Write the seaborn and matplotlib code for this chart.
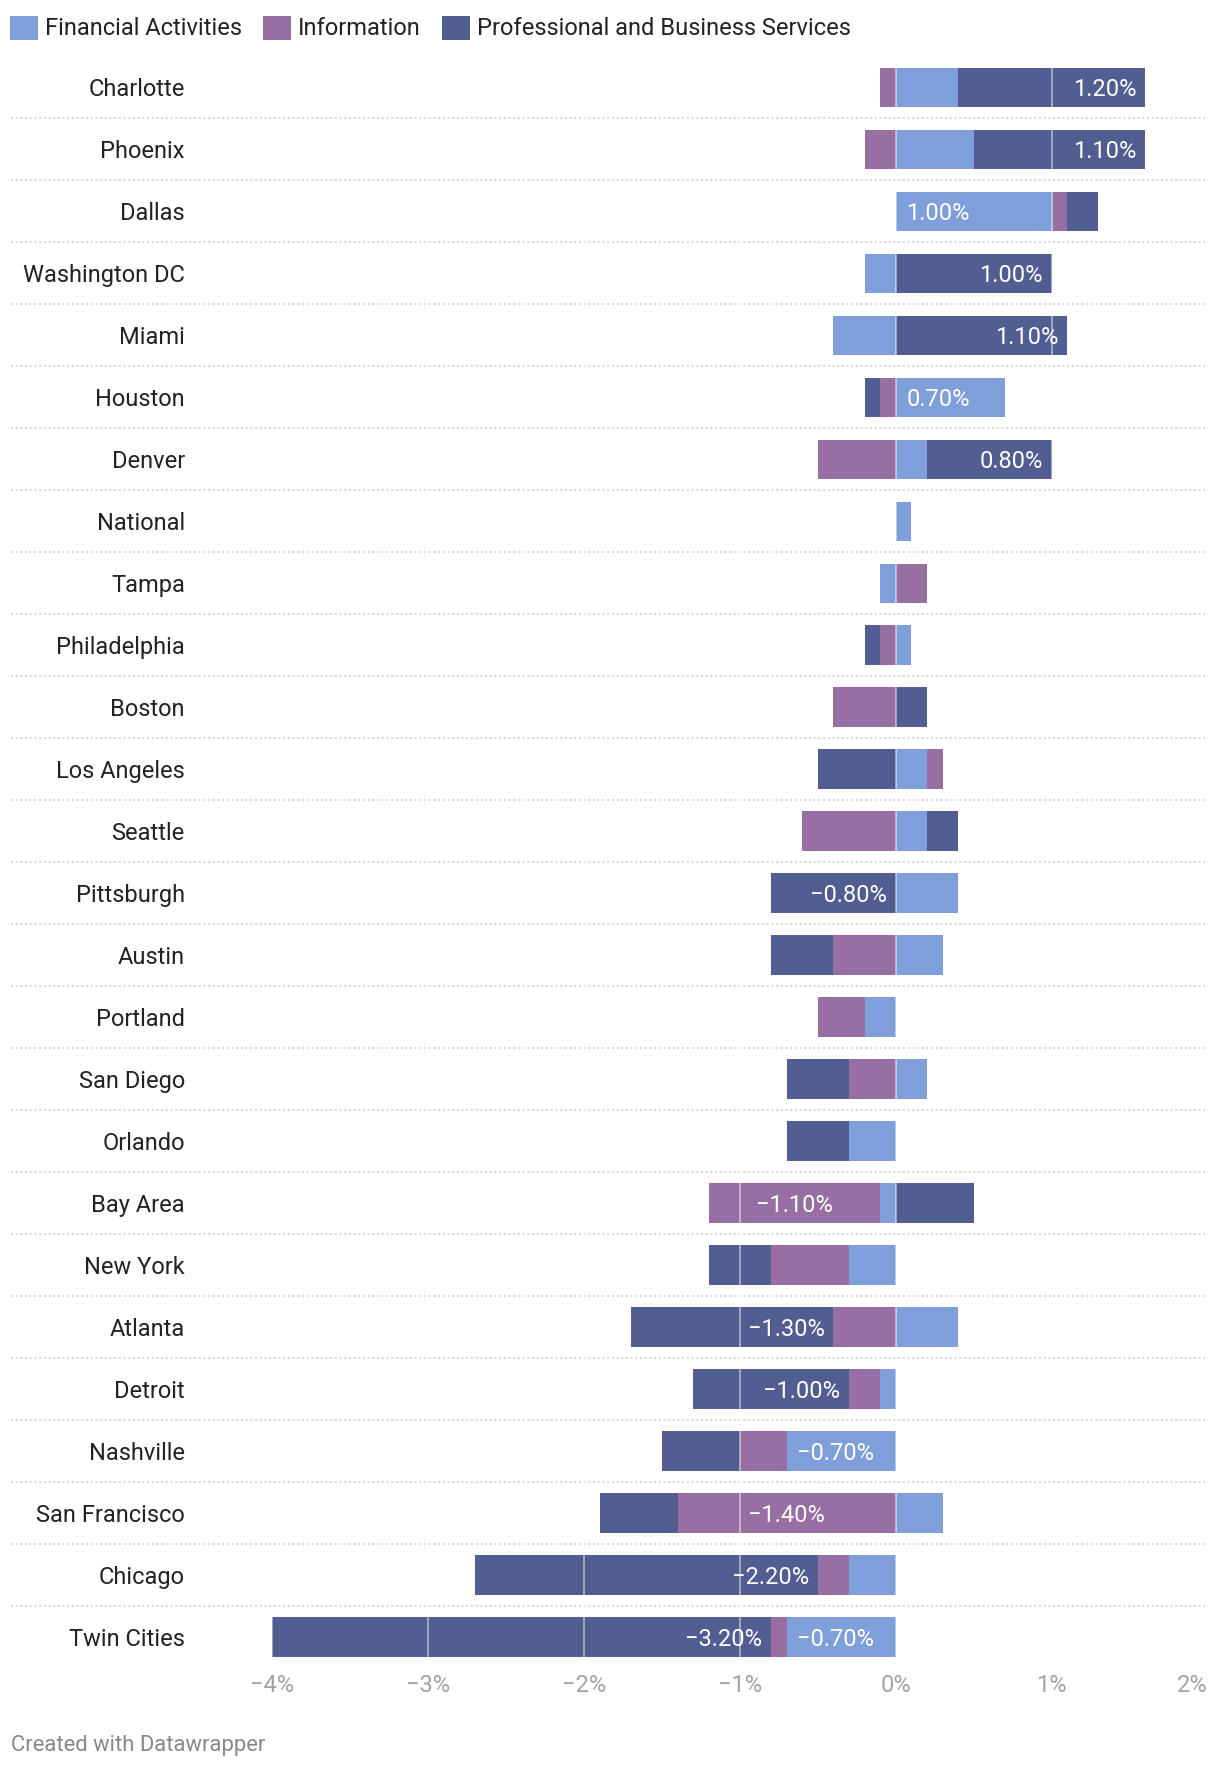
import numpy as np
import pandas as pd
import matplotlib
matplotlib.use("Agg")
import matplotlib.pyplot as plt
import matplotlib.transforms as mtrans
from matplotlib.patches import Patch
import seaborn as sns

# ---------------- data ----------------
cities = ["Charlotte", "Phoenix", "Dallas", "Washington DC", "Miami", "Houston",
          "Denver", "National", "Tampa", "Philadelphia", "Boston", "Los Angeles",
          "Seattle", "Pittsburgh", "Austin", "Portland", "San Diego", "Orlando",
          "Bay Area", "New York", "Atlanta", "Detroit", "Nashville",
          "San Francisco", "Chicago", "Twin Cities"]
financial = [0.4, 0.5, 1.0, -0.2, -0.4, 0.7, 0.2, 0.1, -0.1, 0.1, 0.0, 0.2,
             0.2, 0.4, 0.3, -0.2, 0.2, -0.3, -0.1, -0.3, 0.4, -0.1, -0.7,
             0.3, -0.3, -0.7]
information = [-0.1, -0.2, 0.1, 0.0, 0.0, -0.1, -0.5, 0.0, 0.2, -0.1, -0.4, 0.1,
               -0.6, 0.0, -0.4, -0.3, -0.3, 0.0, -1.1, -0.5, -0.4, -0.2, -0.3,
               -1.4, -0.2, -0.1]
professional = [1.2, 1.1, 0.2, 1.0, 1.1, -0.1, 0.8, 0.0, 0.0, -0.1, 0.2, -0.5,
                0.2, -0.8, -0.4, 0.0, -0.4, -0.4, 0.5, -0.4, -1.3, -1.0, -0.5,
                -0.5, -2.2, -3.2]
series_names = ["Financial Activities", "Information",
                "Professional and Business Services"]
xticks = [-4, -3, -2, -1, 0, 1, 2]
xtick_labels = ["\u22124%", "\u22123%", "\u22122%", "\u22121%", "0%", "1%", "2%"]
credit = "Created with Datawrapper"

# ---------------- style ----------------
colors = ["#7f9fda", "#976fa3", "#525d91"]
W, H, DPI = 1220, 1772, 100
sns.set_theme(style="white")
plt.rcParams["font.family"] = ["Roboto", "DejaVu Sans"]
FS = 17

fig = plt.figure(figsize=(W / DPI, H / DPI), dpi=DPI)
ax_left = 194.3 / W
ax_right = 1207.6 / W
ax_top = 1 - 56.5 / H
ax_bot = 1 - 1668.0 / H
ax = fig.add_axes([ax_left, ax_bot, ax_right - ax_left, ax_top - ax_bot])

# ---------------- stacked diverging bars (seaborn) ----------------
series = [np.array(financial), np.array(information), np.array(professional)]
pos_parts = [np.clip(s, 0, None) for s in series]
neg_parts = [np.clip(s, None, 0) for s in series]
pos_cum = np.cumsum(pos_parts, axis=0)
neg_cum = np.cumsum(neg_parts, axis=0)

bar_w = 0.64
# draw outermost cumulative first so inner segments overlay it
for k in [2, 1, 0]:
    for cum in (pos_cum, neg_cum):
        df = pd.DataFrame({"city": cities, "value": cum[k]})
        sns.barplot(data=df, x="value", y="city", order=cities, orient="h",
                    color=colors[k], saturation=1, width=bar_w, errorbar=None,
                    linewidth=0, edgecolor="none", ax=ax, zorder=2)

ax.set_xlim(-4.5, 2)
ax.set_ylim(len(cities) - 0.5, -0.5)
ax.set_xlabel("")
ax.set_ylabel("")

# white grid lines over bars
for t in xticks:
    ax.axvline(t, color="white", alpha=0.5, lw=1.3, zorder=3)

# dotted row separators spanning the full width
trans = mtrans.blended_transform_factory(ax.transAxes, ax.transData)
x0 = (11 - 194.3) / (1207.6 - 194.3)
for i in range(len(cities) - 1):
    ax.plot([x0, 1.0], [i + 0.5, i + 0.5], transform=trans, clip_on=False,
            color="#cfcfcf", lw=1.3, ls=(0, (1, 1.6)), zorder=1)

# value labels inside bars
for k, s in enumerate(series):
    for i, v in enumerate(s):
        if abs(v) < 0.65:
            continue
        if v >= 0:
            start, end = pos_cum[k][i] - v, pos_cum[k][i]
        else:
            start, end = neg_cum[k][i], neg_cum[k][i] - v
        txt = f"{v:.2f}%".replace("-", "\u2212")
        if k == 0:
            ax.annotate(txt, (start, i), xytext=(7.5, 0), textcoords="offset points",
                        ha="left", va="center_baseline", color="white",
                        fontsize=FS, zorder=4)
        elif k == 1:
            ax.annotate(txt, ((start + end) / 2, i), ha="center",
                        va="center_baseline", color="white", fontsize=FS, zorder=4)
        else:
            ax.annotate(txt, (end, i), xytext=(-6.5, 0), textcoords="offset points",
                        ha="right", va="center_baseline", color="white",
                        fontsize=FS, zorder=4)

# axes decoration
ax.set_xticks(xticks)
ax.set_xticklabels(xtick_labels)
for lab in ax.get_xticklabels():
    lab.set_color("#a3a3a3")
    lab.set_fontsize(FS)
ax.get_xticklabels()[-1].set_horizontalalignment("right")
ax.tick_params(axis="x", length=0, pad=4.5)
ax.tick_params(axis="y", length=0, pad=6.8, labelsize=FS, labelcolor="#222222")
sns.despine(ax=ax, left=True, bottom=True)
ax.grid(False)

# legend
handles = [Patch(facecolor=c, edgecolor="none") for c in colors]
fig.legend(handles, series_names, loc="center left",
           bbox_to_anchor=(10 / W, 1 - 28 / H), ncol=3, frameon=False,
           fontsize=FS, handlelength=1.19, handleheight=1.19,
           handletextpad=0.3, columnspacing=0.89, borderaxespad=0,
           borderpad=0, labelcolor="#222222")

fig.text(11 / W, 1 - 1745 / H, credit, ha="left", va="center",
         color="#888888", fontsize=15.8)

fig.savefig("out.png", dpi=DPI, facecolor="white")
